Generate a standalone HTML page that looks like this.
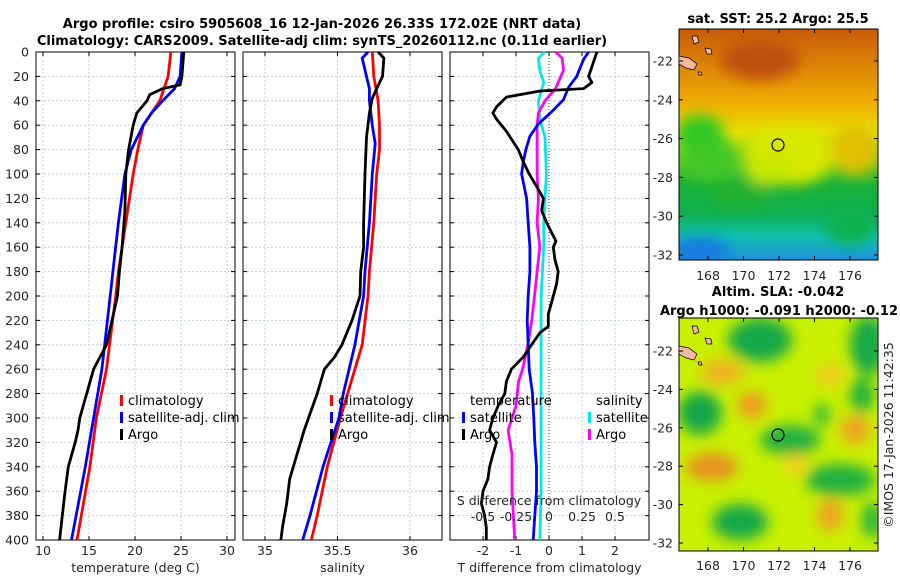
<!DOCTYPE html>
<html><head><meta charset="utf-8">
<style>
body{margin:0;background:#fff;}
svg{display:block;font-family:"DejaVu Sans","Liberation Sans",sans-serif;}
.tk{font-size:12.5px;fill:#262626;}
.tt{font-size:13px;font-weight:bold;fill:#000;}
.lg{font-size:13px;fill:#000;}
</style></head>
<body>
<svg id="fig" width="900" height="580" viewBox="0 0 900 580">
<defs>
<clipPath id="cm1"><rect x="679" y="29" width="199" height="231"/></clipPath>
<clipPath id="cm2"><rect x="679" y="318" width="199" height="233"/></clipPath>
<linearGradient id="sstg" x1="0" y1="0" x2="0" y2="1">
<stop offset="0" stop-color="#c85a08"/><stop offset="0.18" stop-color="#df8a08"/>
<stop offset="0.33" stop-color="#f0b000"/><stop offset="0.45" stop-color="#e8e000"/>
<stop offset="0.55" stop-color="#70d020"/><stop offset="0.68" stop-color="#18b038"/>
<stop offset="0.8" stop-color="#10b050"/><stop offset="0.9" stop-color="#10c0b0"/>
<stop offset="1" stop-color="#2090e0"/></linearGradient>
<filter id="bl" x="-50%" y="-50%" width="200%" height="200%"><feGaussianBlur stdDeviation="7"/></filter>
</defs>
<text class="tt" x="322" y="28" text-anchor="middle">Argo profile: csiro 5905608_16 12-Jan-2026 26.33S 172.02E (NRT data)</text>
<text class="tt" x="322" y="45" text-anchor="middle">Climatology: CARS2009. Satellite-adj clim: synTS_20260112.nc (0.11d earlier)</text>
<g id="p1"></g>
<g id="p2"></g>
<g id="p3"></g>

<g>
<g clip-path="url(#cm1)">
<rect x="679" y="29" width="199" height="231" fill="url(#sstg)"/>
<g filter="url(#bl)">
<ellipse cx="790" cy="155" rx="45" ry="30" fill="#d8e800"/>
<ellipse cx="855" cy="150" rx="25" ry="25" fill="#e0c000"/>
<ellipse cx="770" cy="170" rx="25" ry="15" fill="#c8e800"/>
<ellipse cx="700" cy="135" rx="25" ry="20" fill="#30c828"/>
<ellipse cx="710" cy="160" rx="28" ry="20" fill="#40c828"/>
<ellipse cx="740" cy="195" rx="30" ry="12" fill="#20b030"/>
<ellipse cx="850" cy="225" rx="25" ry="20" fill="#10b050"/>
<ellipse cx="700" cy="250" rx="30" ry="12" fill="#1878e0"/>
<ellipse cx="760" cy="60" rx="40" ry="20" fill="#c05008"/>
</g></g>
<rect x="679" y="29" width="199" height="231" fill="none" stroke="#000" stroke-width="1"/>
<path d="M679 56 l10 2 l8 6 l-3 6 l-8 -2 l-7 -4z M692 36 l5 0 l2 6 l-5 2z M705 48 l6 1 l1 5 l-5 0z M698 72 l3 0 l1 3 l-3 0z" fill="#f4b89a" stroke="#000" stroke-width="0.7"/>
<ellipse cx="778" cy="145" rx="6" ry="6" fill="none" stroke="#000" stroke-width="1.2"/>
<text class="tt" x="778" y="23" text-anchor="middle">sat. SST: 25.2 Argo: 25.5</text>
</g>

<g>
<g clip-path="url(#cm2)">
<rect x="679" y="318" width="199" height="233" fill="#c8f000"/>
<g filter="url(#bl)">
<ellipse cx="760" cy="340" rx="32" ry="22" fill="#18a848"/>
<ellipse cx="868" cy="345" rx="18" ry="30" fill="#18a848"/>
<ellipse cx="862" cy="395" rx="12" ry="18" fill="#20b040"/>
<ellipse cx="700" cy="413" rx="22" ry="22" fill="#18a848"/>
<ellipse cx="790" cy="440" rx="30" ry="15" fill="#20b040"/>
<ellipse cx="822" cy="415" rx="8" ry="12" fill="#30b838"/>
<ellipse cx="840" cy="480" rx="35" ry="16" fill="#20b040"/>
<ellipse cx="740" cy="522" rx="28" ry="18" fill="#18a848"/>
<ellipse cx="872" cy="520" rx="10" ry="18" fill="#20b040"/>
<ellipse cx="722" cy="372" rx="22" ry="12" fill="#f0b020"/>
<ellipse cx="752" cy="405" rx="14" ry="14" fill="#f09a20"/>
<ellipse cx="712" cy="467" rx="26" ry="14" fill="#e89020"/>
<ellipse cx="855" cy="430" rx="15" ry="14" fill="#f0a020"/>
<ellipse cx="830" cy="515" rx="13" ry="16" fill="#f0a020"/>
<ellipse cx="830" cy="375" rx="15" ry="10" fill="#f8c820"/>
<ellipse cx="795" cy="465" rx="12" ry="10" fill="#f8d020"/>
</g></g>
<rect x="679" y="318" width="199" height="233" fill="none" stroke="#000" stroke-width="1"/>
<path d="M679 346 l10 2 l8 6 l-3 6 l-8 -2 l-7 -4z M692 326 l5 0 l2 6 l-5 2z M705 338 l6 1 l1 5 l-5 0z M698 362 l3 0 l1 3 l-3 0z" fill="#f4b89a" stroke="#000" stroke-width="0.7"/>
<ellipse cx="778" cy="435" rx="6" ry="6" fill="none" stroke="#000" stroke-width="1.2"/>
<text class="tt" x="778" y="296" text-anchor="middle">Altim. SLA: -0.042</text>
<text class="tt" x="779" y="315" text-anchor="middle">Argo h1000: -0.091 h2000: -0.12</text>
<text class="tk" x="0" y="0" transform="translate(893,435) rotate(-90)" text-anchor="middle">©IMOS 17-Jan-2026 11:42:35</text>
</g>
<g id="mapaxes"></g>
</svg>

<script>
var NS="http://www.w3.org/2000/svg";
var depthTicks=[0,20,40,60,80,100,120,140,160,180,200,220,240,260,280,300,320,340,360,380,400];
var tTicks=[10,15,20,25,30];
var sTicks=[35,35.5,36];
var dTTicks=[-2,-1,0,1,2];
var dSTicks=[-0.5,-0.25,0,0.25,0.5];
var dSTickLabels=["-0.5","-0.25","0","0.25","0.5"];
// temperature
var tClimD=[0,20,40,60,80,100,120,140,160,180,200,260,300,340,400];
var tClim=[23.9,23.6,22.7,20.9,20.3,19.8,19.4,19.0,18.6,18.2,17.9,16.9,15.8,15.1,13.7];
var tSatD=[0,20,30,40,50,60,80,100,140,180,200,260,300,340,400];
var tSat=[25.1,24.9,24.3,23.0,21.8,20.9,19.6,18.9,18.2,17.6,17.3,16.4,15.5,14.6,13.1];
var tArgoD=[0,20,27,30,35,40,50,60,80,100,130,160,180,200,220,240,250,260,280,300,310,320,340,360,380,400];
var tArgo=[25.3,25.1,24.9,23.0,21.6,21.3,20.2,19.8,19.3,19.0,18.9,18.6,18.3,18.1,17.5,16.9,16.2,15.5,14.75,14.0,13.8,13.5,12.75,12.4,12.1,11.8];
// salinity
var sClimD=[0,20,40,60,80,100,140,180,200,240,260,300,340,380,400];
var sClim=[35.74,35.75,35.78,35.79,35.79,35.77,35.75,35.72,35.71,35.67,35.62,35.52,35.43,35.36,35.32];
var sSatD=[0,5,20,30,40,60,75,100,140,180,200,240,280,300,340,380,400];
var sSat=[35.71,35.67,35.70,35.72,35.72,35.74,35.76,35.74,35.72,35.69,35.68,35.62,35.54,35.51,35.40,35.31,35.26];
var sArgoD=[0,5,20,30,38,50,70,100,140,160,180,200,220,240,250,260,280,300,310,330,350,370,390,400];
var sArgo=[35.78,35.82,35.81,35.77,35.74,35.72,35.70,35.69,35.68,35.68,35.66,35.655,35.60,35.53,35.48,35.41,35.36,35.30,35.27,35.22,35.17,35.15,35.12,35.11];
// differences
var dTSatD=[0,6,20,29,39,49,59,69,80,90,100,109,120,140,160,180,200,220,240,260,280,300,320,340,360,380,400];
var dTSat=[1.2,1.05,0.84,0.59,0.44,0.08,-0.32,-0.58,-0.70,-0.78,-0.83,-0.76,-0.68,-0.63,-0.58,-0.58,-0.63,-0.66,-0.63,-0.60,-0.50,-0.46,-0.43,-0.38,-0.38,-0.43,-0.48];
var dTArgoD=[0,20,25,30,32,37,45,50,55,65,80,90,100,110,120,130,140,155,160,170,180,190,200,215,225,230,240,250,260,270,280,290,300,310,320,330,340,350,360,370,380,390,400];
var dTArgo=[1.45,1.2,1.3,1.05,-0.27,-1.29,-1.59,-1.70,-1.59,-1.29,-0.93,-0.78,-0.60,-0.38,-0.17,-0.22,-0.07,0.21,0.13,0.18,0.28,0.23,0.13,-0.02,-0.02,-0.27,-0.53,-0.78,-1.14,-1.29,-1.34,-1.54,-1.70,-1.80,-1.59,-1.70,-1.80,-1.85,-2.0,-2.05,-1.95,-1.90,-1.90];
var dSSatD=[0,5,15,25,40,55,70,100,120,140,160,200,240,280,320,360,400];
var dSSat=[-0.03,-0.08,-0.07,-0.04,-0.08,-0.07,-0.03,-0.02,-0.03,-0.04,-0.04,-0.06,-0.06,-0.06,-0.06,-0.06,-0.07];
var dSArgoD=[0,5,15,25,30,40,50,60,80,100,120,140,160,180,200,220,240,260,270,290,310,330,360,380,400];
var dSArgo=[0.05,0.10,0.11,0.07,0.05,-0.03,-0.08,-0.09,-0.09,-0.09,-0.08,-0.09,-0.07,-0.09,-0.11,-0.13,-0.16,-0.20,-0.23,-0.25,-0.31,-0.28,-0.28,-0.27,-0.26];
var latTicks=[-22,-24,-26,-28,-30,-32];
var lonTicks=[168,170,172,174,176];

function yD(d){return 52+d*1.22;}
function xT(v){return 43+(v-10)*9.2;}
function xS(v){return 265+(v-35)*145;}
function xdT(v){return 549+v*33;}
function xdS(v){return 549+v*132;}
function mk(tag,attrs,parent){var e=document.createElementNS(NS,tag);for(var k in attrs)e.setAttribute(k,attrs[k]);parent.appendChild(e);return e;}
function txt(parent,x,y,s,anchor,cls){var t=mk("text",{x:x,y:y,"text-anchor":anchor,"class":cls},parent);t.textContent=s;return t;}

function frame(g,x0,x1,xt,xf,labels,title,leftLabels,zeroLine){
  depthTicks.forEach(function(d){
    var l=mk("line",{x1:x0,x2:x1,y1:yD(d),y2:yD(d),stroke:"#b8c4dc","stroke-width":0.8,"stroke-dasharray":"2,2"},g);
    
    
    mk("line",{x1:x0,x2:x0+4,y1:yD(d),y2:yD(d),stroke:"#000"},g);
    mk("line",{x1:x1-4,x2:x1,y1:yD(d),y2:yD(d),stroke:"#000"},g);
    if(leftLabels){var t=txt(g,29,yD(d)+4.5,String(d),"end","tk");
      
      }
  });
  xt.forEach(function(v,i){
    var x=xf(v);
    var isZero=zeroLine&&v===0;
    var l=mk("line",{x1:x,x2:x,y1:52,y2:540,stroke:isZero?"#000":"#b8c4dc","stroke-width":0.8,"stroke-dasharray":isZero?"1,2":"2,2"},g);
    
    
    mk("line",{x1:x,x2:x,y1:536,y2:540,stroke:"#000"},g);
    mk("line",{x1:x,x2:x,y1:52,y2:56,stroke:"#000"},g);
    var t=txt(g,x,555,labels[i],"middle","tk");
    
    
  });
  mk("rect",{x:x0,y:52,width:x1-x0,height:488,fill:"none",stroke:"#000","stroke-width":1},g);
  var at=txt(g,(x0+x1)/2,572,title,"middle","tk");
  
  
}
function line(g,ds,vs,xf,color,name){
  var p="";for(var i=0;i<ds.length;i++)p+=(i?"L":"M")+xf(vs[i]).toFixed(1)+" "+yD(ds[i]).toFixed(1);
  var e=mk("path",{d:p,fill:"none",stroke:color,"stroke-width":2.8,"stroke-linejoin":"round"},g);
  
  
}
function legend(g,x,y,color,label,name){
  mk("rect",{x:x,y:y-10,width:3,height:11,fill:color},g);
  var t=txt(g,x+8,y,label,"start","lg");
  
  
}
var p1=document.getElementById("p1"),p2=document.getElementById("p2"),p3=document.getElementById("p3");
frame(p1,36,235,tTicks,xT,tTicks.map(String),"temperature (deg C)",true,false);
line(p1,tClimD,tClim,xT,"#f00","temp-climatology-line");
line(p1,tSatD,tSat,xT,"#00f","temp-satellite-line");
line(p1,tArgoD,tArgo,xT,"#000","temp-argo-line");
legend(p1,120,405,"#f00","climatology","legend-climatology");
legend(p1,120,422,"#00f","satellite-adj. clim","legend-satellite-adj");
legend(p1,120,439,"#000","Argo","legend-argo");

frame(p2,243,442,sTicks,xS,["35","35.5","36"],"salinity",false,false);
line(p2,sClimD,sClim,xS,"#f00","sal-climatology-line");
line(p2,sSatD,sSat,xS,"#00f","sal-satellite-line");
line(p2,sArgoD,sArgo,xS,"#000","sal-argo-line");
legend(p2,330,405,"#f00","climatology","legend-climatology-2");
legend(p2,330,422,"#00f","satellite-adj. clim","legend-satellite-adj-2");
legend(p2,330,439,"#000","Argo","legend-argo-2");

frame(p3,450,649,dTTicks,xdT,dTTicks.map(String),"T difference from climatology",false,true);
line(p3,dSSatD,dSSat,xdS,"#00e8e8","sdiff-satellite-line");
line(p3,dSArgoD,dSArgo,xdS,"#f0f","sdiff-argo-line");
line(p3,dTSatD,dTSat,xdT,"#00f","tdiff-satellite-line");
line(p3,dTArgoD,dTArgo,xdT,"#000","tdiff-argo-line");
var st=txt(p3,549,505,"S difference from climatology","middle","tk");


dSTicks.forEach(function(v,i){var t=txt(p3,xdS(v),521,dSTickLabels[i],"middle","tk");
  
  });
var lt=txt(p3,470,405,"temperature","start","lg");


var ls=txt(p3,596,405,"salinity","start","lg");


legend(p3,462,422,"#00f","satellite","legend-t-satellite");
legend(p3,462,439,"#000","Argo","legend-t-argo");
legend(p3,588,422,"#00e8e8","satellite","legend-s-satellite");
legend(p3,588,439,"#f0f","Argo","legend-s-argo");

var ma=document.getElementById("mapaxes");
function mapAxes(top,lat22,latStep,lonY,bottom){
  latTicks.forEach(function(la){var y=lat22+(-22-la)*latStep;
    mk("line",{x1:679,x2:683,y1:y,y2:y,stroke:"#000"},ma);
    mk("line",{x1:874,x2:878,y1:y,y2:y,stroke:"#000"},ma);
    var t=txt(ma,673,y+4.5,String(la),"end","tk");
    
    });
  lonTicks.forEach(function(lo){var x=708+(lo-168)*17.75;
    mk("line",{x1:x,x2:x,y1:bottom-4,y2:bottom,stroke:"#000"},ma);
    mk("line",{x1:x,x2:x,y1:top,y2:top+4,stroke:"#000"},ma);
    var t=txt(ma,x,lonY,String(lo),"middle","tk");
    
    });
}
mapAxes(29,61,19.4,280,260);
mapAxes(318,351,19.2,570,551);
</script>
</body></html>
